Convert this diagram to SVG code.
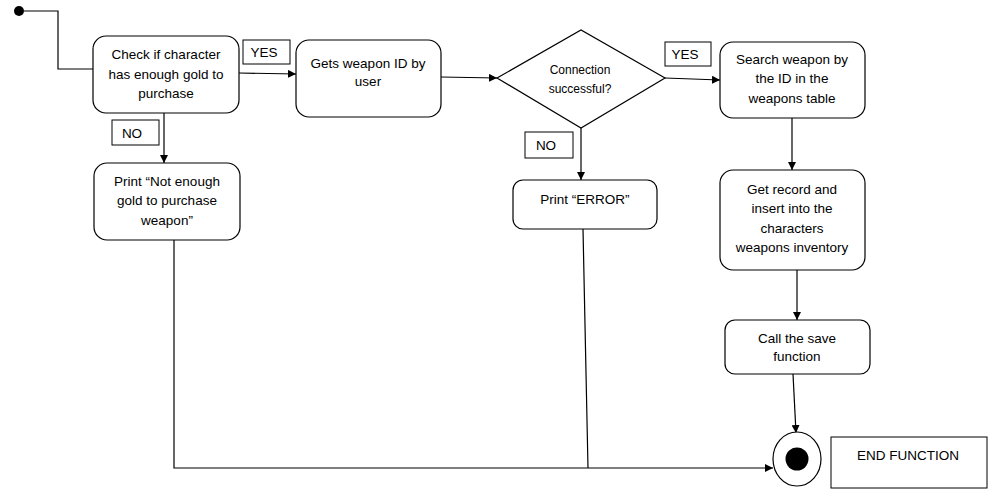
<svg xmlns="http://www.w3.org/2000/svg" width="995" height="500" viewBox="0 0 995 500">
<defs>
<marker id="arr" viewBox="0 0 10 10" refX="10" refY="5" markerWidth="8" markerHeight="8" markerUnits="userSpaceOnUse" orient="auto">
<path d="M0,0 L10,5 L0,10 z" fill="#000"/>
</marker>
<style>
.n{fill:#fff;stroke:#000;stroke-width:1.2}
.l{fill:#fff;stroke:#000;stroke-width:1}
.c{fill:none;stroke:#000;stroke-width:1.2}
text{font-family:"Liberation Sans",Arial,sans-serif;font-size:13.5px;fill:#000;text-anchor:middle}
.s{font-size:12px}
</style>
</defs>
<rect width="995" height="500" fill="#fff"/>
<g id="connectors">
<path class="c" d="M24,11 H58 V69 H93"/>
<path class="c" d="M239,73 L296,74" marker-end="url(#arr)"/>
<path class="c" d="M441,77 L497,78" marker-end="url(#arr)"/>
<path class="c" d="M665,78 L720,80" marker-end="url(#arr)"/>
<path class="c" d="M164,113 V163" marker-end="url(#arr)"/>
<path class="c" d="M581,128 V180" marker-end="url(#arr)"/>
<path class="c" d="M792,118 V170" marker-end="url(#arr)"/>
<path class="c" d="M797,270 V320" marker-end="url(#arr)"/>
<path class="c" d="M793,374 L796,433" marker-end="url(#arr)"/>
<path class="c" d="M174,240 V468 H773" marker-end="url(#arr)"/>
<path class="c" d="M583,229 L588,468"/>
</g>
<g id="start"><circle cx="19" cy="11" r="5" fill="#000"/></g>
<g id="check">
<rect class="n" x="93" y="36" width="146" height="77" rx="13"/>
<text x="166" y="59">Check if character</text>
<text x="166" y="79">has enough gold to</text>
<text x="166" y="98">purchase</text>
</g>
<g id="yes1"><rect class="l" x="243" y="40" width="47" height="24"/><text x="264" y="57">YES</text></g>
<g id="getid">
<rect class="n" x="296" y="40" width="145" height="77" rx="13"/>
<text x="368" y="68">Gets weapon ID by</text>
<text x="368" y="86">user</text>
</g>
<g id="decision">
<polygon class="n" points="497,78 581,30 665,78 581,128"/>
<text class="s" x="580" y="74">Connection</text>
<text class="s" x="580" y="93">successful?</text>
</g>
<g id="yes2"><rect class="l" x="665" y="42" width="46" height="24"/><text x="685" y="59">YES</text></g>
<g id="search">
<rect class="n" x="720" y="42" width="145" height="76" rx="13"/>
<text x="792" y="64">Search weapon by</text>
<text x="792" y="83">the ID in the</text>
<text x="792" y="103">weapons table</text>
</g>
<g id="getrecord">
<rect class="n" x="720" y="170" width="145" height="100" rx="13"/>
<text x="792" y="194">Get record and</text>
<text x="792" y="213">insert into the</text>
<text x="792" y="233">characters</text>
<text x="792" y="252">weapons inventory</text>
</g>
<g id="save">
<rect class="n" x="725" y="320" width="145" height="54" rx="10"/>
<text x="797" y="343">Call the save</text>
<text x="797" y="361">function</text>
</g>
<g id="no1"><rect class="l" x="112" y="120" width="47" height="25"/><text x="132" y="138">NO</text></g>
<g id="notenough">
<rect class="n" x="94" y="163" width="146" height="77" rx="13"/>
<text x="167" y="186">Print “Not enough</text>
<text x="167" y="205">gold to purchase</text>
<text x="167" y="225">weapon”</text>
</g>
<g id="no2"><rect class="l" x="525" y="132" width="48" height="26"/><text x="546" y="150">NO</text></g>
<g id="error">
<rect class="n" x="513" y="180" width="144" height="49" rx="10"/>
<text x="585" y="204">Print “ERROR”</text>
</g>
<g id="end">
<ellipse class="n" cx="797" cy="459" rx="24" ry="27"/>
<circle cx="797" cy="459" r="11.5" fill="#000"/>
</g>
<g id="endlabel"><rect class="l" x="831" y="437" width="156" height="51"/><text x="908" y="460">END FUNCTION</text></g>
</svg>
